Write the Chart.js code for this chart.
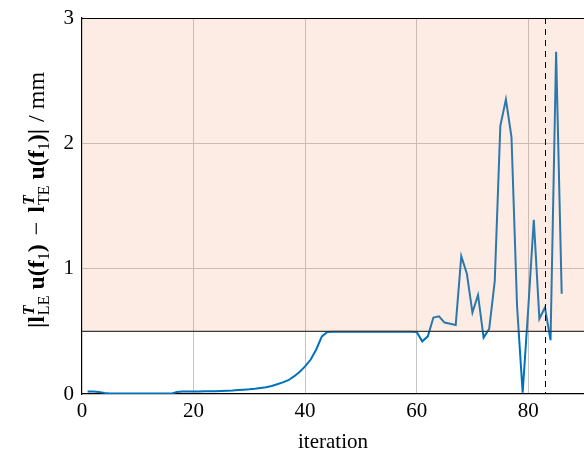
<!DOCTYPE html>
<html>
<head>
<meta charset="utf-8">
<script src="https://cdn.jsdelivr.net/npm/chart.js@4"></script>
<style>
  html, body { margin: 0; padding: 0; background: #fff; }
  #wrap { width: 584px; height: 459px; position: relative; }
</style>
</head>
<body>
<div id="wrap"><canvas id="chart" width="584" height="459"></canvas></div>
<script>
const iterations = Array.from({ length: 86 }, (_, i) => i + 1);
const distance = [
  0.019, 0.019, 0.016, 0.009, 0.004, 0.003, 0.003, 0.003, 0.003, 0.003,
  0.003, 0.003, 0.003, 0.003, 0.003, 0.003, 0.016, 0.019, 0.019, 0.020,
  0.020, 0.021, 0.021, 0.022, 0.024, 0.026, 0.028, 0.031, 0.034, 0.037,
  0.041, 0.047, 0.054, 0.064, 0.078, 0.093, 0.110, 0.140, 0.175, 0.220,
  0.275, 0.355, 0.460, 0.495, 0.497, 0.497, 0.497, 0.497, 0.497, 0.497,
  0.497, 0.497, 0.497, 0.497, 0.497, 0.497, 0.497, 0.497, 0.497, 0.495,
  0.420, 0.460, 0.610, 0.620, 0.570, 0.560, 0.550, 1.100, 0.960, 0.650,
  0.790, 0.450, 0.520, 0.900, 2.140, 2.350, 2.050, 0.700, 0.010, 0.680,
  1.390, 0.600, 0.690, 0.430, 2.730, 0.800
];
const threshold = 0.5;
const markerIteration = 83;
const xTicks = [0, 20, 40, 60, 80];
const yTicks = [0, 1, 2, 3];

const serif = '"Liberation Serif", "DejaVu Serif", serif';

// shaded region above the threshold, the threshold line, the dashed marker, top frame
const overlay = {
  id: 'overlay',
  afterDatasetsDraw(chart) {
    const { ctx, chartArea: a, scales: { x, y } } = chart;
    const yt = y.getPixelForValue(threshold);
    ctx.save();
    ctx.fillStyle = 'rgba(240,150,100,0.18)';
    ctx.fillRect(a.left, a.top, a.right - a.left, yt - a.top);
    ctx.strokeStyle = '#3a3a3a';
    ctx.lineWidth = 1.3;
    ctx.beginPath();
    ctx.moveTo(a.left, yt); ctx.lineTo(a.right, yt);
    ctx.stroke();
    const xm = Math.round(x.getPixelForValue(markerIteration)) + 0.5;
    ctx.strokeStyle = '#000';
    ctx.lineWidth = 1;
    ctx.setLineDash([6, 5]);
    ctx.beginPath();
    ctx.moveTo(xm, a.top); ctx.lineTo(xm, a.bottom);
    ctx.stroke();
    ctx.setLineDash([]);
    ctx.lineWidth = 1.2;
    ctx.beginPath();
    ctx.moveTo(a.left, a.top + 0.5); ctx.lineTo(a.right, a.top + 0.5);
    ctx.stroke();
    ctx.restore();
  },
  afterDraw(chart) {
    // y-axis title with sub/superscripts
    const { ctx } = chart;
    const big = 24, small = 16;
    const bold = `bold ${big}px ${serif}`, reg = `${big}px ${serif}`;
    const parts = [
      { t: '|', f: bold },
      { t: 'l', f: bold, sup: 'T', sub: 'LE' },
      { t: 'u(f', f: bold, sub1: '1', gap: 6 },
      { t: ')', f: bold },
      { t: '−', f: reg, gap: 9 },
      { t: 'l', f: bold, sup: 'T', sub: 'TE', gap: 9 },
      { t: 'u(f', f: bold, sub1: '1', gap: 6 },
      { t: ')|', f: bold },
      { t: '/', f: reg, gap: 7 },
      { t: 'mm', f: reg, gap: 6 }
    ];
    ctx.save();
    const supFont = `bold italic ${small}px ${serif}`;
    const subFont = `${small}px ${serif}`;
    const widths = parts.map((p) => {
      ctx.font = p.f;
      let w = ctx.measureText(p.t).width + (p.gap || 0);
      if (p.sup || p.sub) {
        ctx.font = supFont; const ws = ctx.measureText(p.sup).width;
        ctx.font = subFont; const wb = ctx.measureText(p.sub).width;
        w += Math.max(ws, wb) + 1;
      }
      if (p.sub1) { ctx.font = subFont; w += ctx.measureText(p.sub1).width; }
      return w;
    });
    const total = widths.reduce((s, w) => s + w, 0);
    ctx.translate(44, 200);
    ctx.rotate(-Math.PI / 2);
    ctx.fillStyle = '#000';
    ctx.textBaseline = 'alphabetic';
    let px = -total / 2;
    parts.forEach((p) => {
      px += p.gap || 0;
      ctx.font = p.f;
      ctx.fillText(p.t, px, 0);
      px += ctx.measureText(p.t).width;
      if (p.sup || p.sub) {
        px += 1;
        ctx.font = supFont; ctx.fillText(p.sup, px, -10);
        const ws = ctx.measureText(p.sup).width;
        ctx.font = subFont; ctx.fillText(p.sub, px, 5);
        px += Math.max(ws, ctx.measureText(p.sub).width);
      }
      if (p.sub1) {
        ctx.font = subFont; ctx.fillText(p.sub1, px, 5);
        px += ctx.measureText(p.sub1).width;
      }
    });
    ctx.restore();
  }
};

new Chart(document.getElementById('chart'), {
  type: 'line',
  data: {
    datasets: [{
      data: iterations.map((it, i) => ({ x: it, y: distance[i] })),
      borderColor: '#0072BD',
      borderWidth: 2,
      pointRadius: 0,
      tension: 0,
      fill: false
    }]
  },
  options: {
    responsive: false,
    animation: false,
    layout: { padding: { top: 18, right: 0, left: 0, bottom: 0 } },
    plugins: { legend: { display: false }, tooltip: { enabled: false } },
    scales: {
      x: {
        type: 'linear', min: 0, max: 90,
        afterBuildTicks: (axis) => { axis.ticks = xTicks.map((v) => ({ value: v })); },
        afterFit: (axis) => { axis.height = 65; },
        ticks: { color: '#000', font: { family: serif, size: 21 }, padding: 5, maxRotation: 0 },
        grid: { color: (c) => (c.tick.value === 0 ? 'rgba(0,0,0,0)' : '#c4c4c4'), lineWidth: 1, drawTicks: false },
        border: { color: '#000', width: 1.2 },
        title: { display: true, text: 'iteration', color: '#000', font: { family: serif, size: 21 }, padding: { top: 3 } }
      },
      y: {
        min: 0, max: 3,
        afterBuildTicks: (axis) => { axis.ticks = yTicks.map((v) => ({ value: v })); },
        afterFit: (axis) => { axis.width = 82; axis.paddingTop = 0; },
        ticks: { color: '#000', font: { family: serif, size: 21, lineHeight: 1 }, padding: 8 },
        grid: { color: (c) => (c.tick.value === 0 || c.tick.value === 3 ? 'rgba(0,0,0,0)' : '#c4c4c4'), lineWidth: 1, drawTicks: false },
        border: { color: '#000', width: 1.2 }
      }
    }
  },
  plugins: [overlay]
});
</script>
</body>
</html>
